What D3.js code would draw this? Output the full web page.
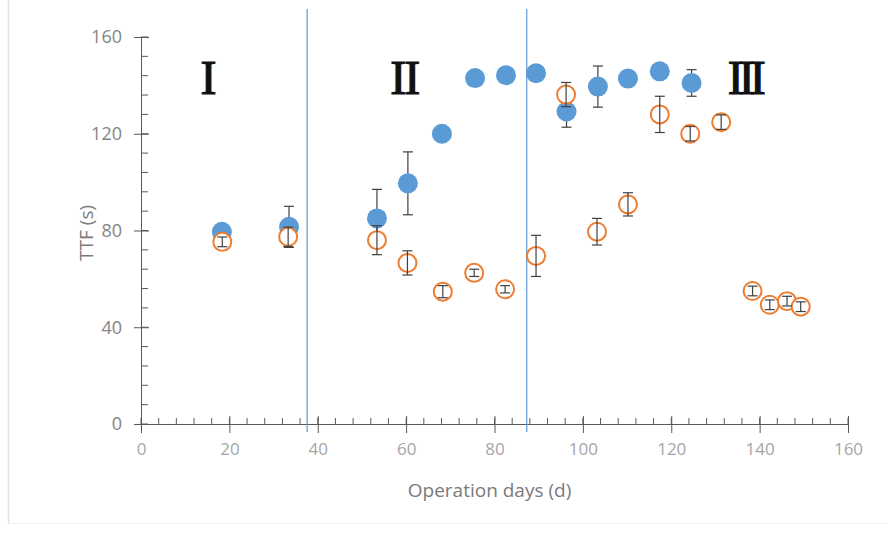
<!DOCTYPE html>
<html>
<head>
<meta charset="utf-8">
<script src="https://cdn.jsdelivr.net/npm/d3@7"></script>
<style>
  body { margin: 0; background: #fff; }
  text { font-family: "Open Sans", "Noto Sans", sans-serif; }
</style>
</head>
<body>
<svg id="chart" width="886" height="534"></svg>
<script>
// blue series (filled)
const blue_days = [18.3, 33.5, 53.4, 60.4, 68.1, 75.6, 82.6, 89.4, 96.3, 103.4, 110.2, 117.4, 124.6];
const blue_ttf = [79.5, 81.5, 85, 99.5, 120, 143, 144.2, 145, 129.2, 139.5, 142.8, 145.8, 141];
const blue_err = [0, 8.5, 12, 13, 0, 0, 0, 0, 6.5, 8.5, 0, 3, 5.5];

// orange series (open)
const orange_days = [18.4, 33.3, 53.4, 60.3, 68.3, 75.4, 82.4, 89.4, 96.2, 103.2, 110.2, 117.4, 124.3, 131.3, 138.4, 142.3, 146.2, 149.3];
const orange_ttf = [75.3, 77.4, 76, 66.6, 54.7, 62.5, 55.7, 69.5, 136.2, 79.5, 90.8, 128, 120, 124.8, 55, 49.3, 50.8, 48.5];
const orange_err = [2, 4, 6, 5, 2.5, 1.5, 1.5, 8.5, 5, 5.5, 4.8, 7.5, 3, 3, 2, 2, 2, 2];

const phase_lines = [37.6, 87.3];
const phase_labels = [
    { day: 15.3, text: "I", spacing: 0 },
    { day: 59.6, text: "II", spacing: -2 },
    { day: 136.5, text: "III", spacing: -5 },
];

const x_ticks = [0, 20, 40, 60, 80, 100, 120, 140, 160];
const y_ticks = [0, 40, 80, 120, 160];

const svg = d3.select("#chart");
let paddings = { top: 37, right: 38, bottom: 110, left: 141 };
let chartWidth = 886 - paddings.left - paddings.right;
let chartHeight = 534 - paddings.top - paddings.bottom;

// faint frame
svg.append("line").attr("x1", 8.5).attr("x2", 8.5).attr("y1", 0).attr("y2", 524)
    .attr("stroke", "#e3e3e3").attr("stroke-width", 1.5);
svg.append("line").attr("x1", 8).attr("x2", 886).attr("y1", 523.5).attr("y2", 523.5)
    .attr("stroke", "#f0f0f0").attr("stroke-width", 1);

const chart = svg.append("g")
    .attr("transform", "translate(" + paddings.left + "," + paddings.top + ")");

const xScale = d3.scaleLinear().domain([0, 160]).range([0, chartWidth]);
const yScale = d3.scaleLinear().domain([0, 160]).range([chartHeight, 0]);

// minor ticks
chart.append("g")
    .selectAll("line")
    .data(d3.range(0, 161, 4))
    .enter().append("line")
    .attr("x1", d => xScale(d)).attr("x2", d => xScale(d))
    .attr("y1", chartHeight).attr("y2", chartHeight - 6)
    .attr("stroke", "#595959");
chart.append("g")
    .selectAll("line")
    .data(d3.range(0, 161, 8))
    .enter().append("line")
    .attr("x1", 0).attr("x2", 7)
    .attr("y1", d => yScale(d)).attr("y2", d => yScale(d))
    .attr("stroke", "#595959");

// axes
const xAxis = d3.axisBottom(xScale).tickValues(x_ticks).tickSizeInner(9).tickSizeOuter(0).tickPadding(10);
const yAxis = d3.axisLeft(yScale).tickValues(y_ticks).tickSizeInner(7).tickSizeOuter(0).tickPadding(12);

const gx = chart.append("g").attr("transform", `translate(0, ${chartHeight})`).call(xAxis);
const gy = chart.append("g").call(yAxis);
[gx, gy].forEach(g => {
    g.select(".domain").attr("stroke", "#595959");
    g.selectAll(".tick line").attr("stroke", "#595959");
});
gx.selectAll(".tick line").attr("y1", -8);
gy.selectAll(".tick line").attr("x2", 8).attr("x1", -7);
gx.selectAll(".tick text").attr("font-size", 17).attr("fill", "#a6a6a6")
    .style("font-family", "'Open Sans', sans-serif");
gy.selectAll(".tick text").attr("font-size", 18).attr("fill", "#858585")
    .style("font-family", "'Open Sans', sans-serif");

// axis titles
svg.append("text")
    .attr("x", paddings.left + xScale(80) - 5)
    .attr("y", 497)
    .attr("text-anchor", "middle")
    .attr("font-size", 19)
    .attr("fill", "#7a7a7a")
    .text("Operation days (d)");
svg.append("text")
    .attr("transform", `translate(93, ${paddings.top + yScale(79)}) rotate(-90)`)
    .attr("text-anchor", "middle")
    .attr("font-size", 19)
    .attr("fill", "#7a7a7a")
    .text("TTF (s)");

// phase divider lines
chart.selectAll("line.phase")
    .data(phase_lines)
    .enter().append("line")
    .attr("class", "phase")
    .attr("x1", d => xScale(d)).attr("x2", d => xScale(d))
    .attr("y1", -28).attr("y2", chartHeight + 8)
    .attr("stroke", "#5b9bd5").attr("stroke-width", 1.2);

// phase labels
chart.selectAll("text.phase")
    .data(phase_labels)
    .enter().append("text")
    .attr("class", "phase")
    .attr("x", d => xScale(d.day))
    .attr("y", 57)
    .attr("text-anchor", "middle")
    .attr("font-size", 48)
    .attr("letter-spacing", d => d.spacing)
    .style("font-family", "'Liberation Serif', 'DejaVu Serif', serif")
    .attr("fill", "#111")
    .attr("stroke", "#111")
    .attr("stroke-width", 1.2)
    .text(d => d.text);

const blue_data = blue_days.map((d, i) => ({ day: d, ttf: blue_ttf[i], err: blue_err[i] }));
const orange_data = orange_days.map((d, i) => ({ day: d, ttf: orange_ttf[i], err: orange_err[i] }));

const draw_err = (data, cls) => {
    const g = chart.append("g").attr("class", cls);
    const withErr = data.filter(d => d.err > 0);
    g.selectAll("line.v").data(withErr).enter().append("line")
        .attr("x1", d => xScale(d.day)).attr("x2", d => xScale(d.day))
        .attr("y1", d => yScale(d.ttf - d.err)).attr("y2", d => yScale(d.ttf + d.err))
        .attr("stroke", "#404040").attr("stroke-width", 1.2);
    ["-", "+"].forEach(s => {
        g.selectAll("line.c" + (s === "+" ? "p" : "m")).data(withErr).enter().append("line")
            .attr("x1", d => xScale(d.day) - 5).attr("x2", d => xScale(d.day) + 5)
            .attr("y1", d => yScale(s === "+" ? d.ttf + d.err : d.ttf - d.err))
            .attr("y2", d => yScale(s === "+" ? d.ttf + d.err : d.ttf - d.err))
            .attr("stroke", "#404040").attr("stroke-width", 1.2);
    });
};

// blue: bars behind markers
draw_err(blue_data, "blue-err");
chart.append("g").selectAll("circle").data(blue_data).enter().append("circle")
    .attr("cx", d => xScale(d.day)).attr("cy", d => yScale(d.ttf))
    .attr("r", 10)
    .attr("fill", "#5b9bd5");

// orange: open markers, bars on top
chart.append("g").selectAll("circle").data(orange_data).enter().append("circle")
    .attr("cx", d => xScale(d.day)).attr("cy", d => yScale(d.ttf))
    .attr("r", 9)
    .attr("fill", "#fff")
    .attr("stroke", "#ed7d31")
    .attr("stroke-width", 2);
draw_err(orange_data, "orange-err");
</script>
</body>
</html>
